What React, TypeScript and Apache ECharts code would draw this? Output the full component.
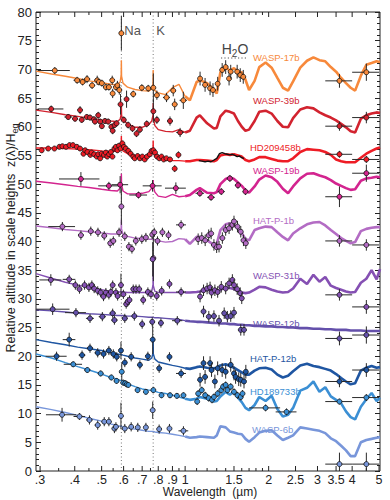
import React, { useEffect, useRef } from 'react';
import * as echarts from 'echarts';

const fontFamily = '"Liberation Sans", Arial, Helvetica, sans-serif';

// ---------- axes ----------
const xTickValues = [0.3, 0.4, 0.5, 0.6, 0.7, 0.8, 0.9, 1, 1.5, 2, 2.5, 3, 3.5, 4, 5];
const xTickLabels = ['.3', '.4', '.5', '.6', '.7', '.8', '.9', '1', '1.5', '2', '2.5', '3', '3.5', '4', '5'];
const xMinorTicks = [0.35, 0.45, 0.55, 0.65, 0.75, 0.85, 0.95, 1.1, 1.2, 1.3, 1.4, 1.6, 1.7, 1.8, 1.9, 4.5];
const lineWl = [0.589, 0.767];
const lineNames = ['Na', 'K'];

// ---------- model wavelength grids (µm) ----------
const visWl = [0.29, 0.33, 0.37, 0.41, 0.45, 0.5, 0.54, 0.57, 0.583, 0.588, 0.589, 0.59, 0.597, 0.62, 0.66, 0.7, 0.74, 0.758, 0.766, 0.767, 0.768, 0.778, 0.8, 0.85, 0.9, 0.95];
const irWl = [1.0, 1.04, 1.1, 1.13, 1.2, 1.27, 1.3, 1.34, 1.4, 1.45, 1.5, 1.55, 1.6, 1.65, 1.7, 1.78, 1.85, 1.95, 2.05, 2.15, 2.25, 2.35, 2.45, 2.6, 2.75, 2.9, 3.05, 3.2, 3.35, 3.5, 3.65, 3.8, 3.95, 4.1, 4.3, 4.5, 4.7, 4.9, 5.04];

// ---------- WASP-17b ----------
const wasp17Vis = [69.7, 69.2, 68.8, 68.4, 68.0, 67.7, 67.4, 67.3, 67.8, 69.0, 71.6, 68.8, 67.6, 66.9, 66.5, 66.3, 66.2, 66.6, 67.6, 69.9, 67.4, 66.3, 65.9, 65.6, 66.8, 67.4];
const wasp17Ir = [65.3, 64.6, 67.8, 68.1, 67.6, 66.5, 65.8, 69.5, 70.3, 69.8, 70.2, 69.6, 69.5, 68.2, 66.4, 68.0, 70.4, 71.2, 70.3, 68.5, 66.8, 66.3, 67.9, 70.3, 71.5, 72.1, 71.6, 71.4, 70.4, 69.6, 68.5, 67.6, 66.8, 66.3, 68.9, 70.8, 71.1, 71.4, 71.3];
const wasp17Obs = [
  [0.339, 69.8, 0.6, 0.045], [0.408, 68.1], [0.427, 67.8], [0.443, 68.3, 0.7], [0.462, 67.2], [0.482, 68.1, 0.8],
  [0.489, 67.8, 0.6, 0.008], [0.501, 67.6, 0.6, 0.01], [0.518, 66.9, 0.6, 0.01], [0.531, 66.9, 0.6, 0.01],
  [0.546, 68.1, 0.8, 0.01], [0.548, 65.8, 0.8, 0.008], [0.563, 66.9, 0.6, 0.008], [0.57, 67.2, 0.8, 0.006],
  [0.579, 66.4, 0.8, 0.006], [0.589, 76.3, 3.0, 0.003], [0.65, 65.7, 0.6, 0.015], [0.698, 66.8, 0.6, 0.015],
  [0.736, 66.7, 0.6], [0.768, 66.8, 2.5, 0.004], [0.791, 65.5, 0.8], [0.857, 65.1, 0.8, 0.025],
  [0.906, 66.3, 1.0, 0.02], [0.917, 63.9, 1.0, 0.02], [0.985, 64.6, 1.5, 0.03],
  [1.132, 68.4], [1.18, 67.3], [1.23, 66.7], [1.26, 66.4], [1.31, 67.5], [1.36, 69.9], [1.4, 70.4],
  [1.44, 68.4], [1.46, 69.6], [1.54, 69.6], [1.58, 69.0], [1.62, 68.7],
  [3.6, 68.0, 1.2, 0.4], [4.5, 69.5, 1.5, 0.5],
];

// ---------- WASP-39b ----------
const wasp39Vis = [62.9, 62.5, 62.1, 61.8, 61.5, 61.2, 61.0, 60.9, 61.3, 62.2, 64.0, 62.0, 61.2, 60.5, 59.9, 59.9, 60.4, 61.0, 62.0, 64.1, 61.6, 60.2, 59.5, 59.2, 59.1, 59.5];
const wasp39Ir = [59.0, 59.3, 61.6, 62.0, 60.6, 59.7, 59.8, 61.8, 62.8, 62.6, 62.3, 61.0, 60.0, 59.3, 59.5, 61.0, 62.6, 62.8, 62.3, 61.0, 60.0, 59.9, 61.5, 63.0, 63.4, 63.2, 62.5, 62.0, 61.6, 61.1, 60.5, 59.9, 59.2, 59.0, 61.4, 62.0, 62.3, 62.5, 62.4];
const wasp39Obs = [
  [0.329, 63.1, 0.6, 0.035], [0.379, 61.7, 0.5, 0.012], [0.401, 61.4, 0.5, 0.01], [0.418, 62.9, 0.7], [0.424, 61.2],
  [0.442, 61.7], [0.454, 61.6], [0.469, 61.3], [0.473, 60.9], [0.486, 62.0, 0.6], [0.494, 60.9], [0.501, 60.1],
  [0.514, 61.0], [0.528, 60.9], [0.542, 60.0], [0.548, 59.3, 0.6], [0.557, 60.3], [0.566, 60.6],
  [0.585, 63.9, 1.8, 0.004], [0.601, 61.2, 0.6], [0.615, 64.8, 1.5, 0.006], [0.623, 60.3, 0.6],
  [0.646, 59.7, 0.6, 0.01], [0.668, 58.8, 0.6, 0.01], [0.687, 59.5, 0.6, 0.01], [0.727, 60.5, 0.6, 0.012],
  [0.768, 62.7, 2.0, 0.004], [0.791, 61.2, 0.7, 0.012], [0.882, 61.0, 0.8, 0.02], [0.959, 59.0, 0.8, 0.03],
  [3.6, 60.1, 0.8, 0.4], [4.5, 61.6, 1.0, 0.5],
];

// ---------- HD209458b ----------
const hd209Vis = [56.3, 56.3, 56.2, 56.1, 56.0, 55.8, 55.7, 55.7, 56.0, 56.8, 58.4, 56.7, 55.8, 55.3, 55.0, 54.9, 55.0, 55.3, 56.0, 57.6, 55.8, 54.8, 54.4, 54.2, 54.1, 54.1];
const hd209Ir = [54.0, 54.0, 54.2, 54.2, 54.1, 54.0, 54.2, 55.0, 55.2, 55.1, 55.2, 55.0, 54.8, 54.2, 54.0, 54.3, 54.7, 54.7, 54.4, 54.1, 54.0, 54.0, 54.5, 55.6, 56.1, 56.0, 55.9, 55.6, 55.1, 54.3, 54.0, 53.8, 53.8, 53.8, 54.6, 55.3, 55.8, 56.2, 56.4];
const hd209Obs = [
  [0.304, 55.9], [0.321, 56.2], [0.338, 56.2], [0.352, 56.5], [0.361, 56.6], [0.372, 56.5], [0.383, 56.8], [0.394, 56.8],
  [0.407, 56.5], [0.418, 56.2], [0.43, 55.3], [0.436, 55.9], [0.444, 55.6], [0.455, 55.1], [0.46, 55.5], [0.47, 55.2],
  [0.48, 54.8], [0.486, 55.2], [0.494, 54.5], [0.5, 55.3], [0.51, 55.1], [0.518, 55.5], [0.524, 54.8], [0.532, 55.2],
  [0.54, 55.6], [0.547, 54.8], [0.556, 56.2], [0.563, 56.5], [0.57, 55.9], [0.578, 56.7], [0.585, 56.2], [0.594, 57.1],
  [0.602, 56.5], [0.611, 56.2], [0.624, 55.8], [0.636, 55.3], [0.65, 54.8], [0.658, 54.5], [0.674, 54.9], [0.687, 54.5],
  [0.701, 54.8], [0.715, 54.3], [0.729, 54.8], [0.746, 55.2], [0.757, 55.8], [0.768, 55.9], [0.779, 55.5], [0.792, 54.8],
  [0.807, 54.5], [0.822, 54.8], [0.837, 54.3], [0.856, 54.5], [0.882, 54.3], [0.917, 52.7, 0.6], [0.946, 55.1, 0.6],
  [3.6, 55.2, 0.6, 0.4], [4.5, 54.3, 0.6, 0.5],
];
const hd209Wfc3 = [
  [1.12, 54.1], [1.15, 54.0], [1.18, 53.9], [1.21, 54.0], [1.24, 53.9], [1.27, 54.2], [1.3, 54.5], [1.33, 55.3], [1.36, 55.5],
  [1.39, 55.3], [1.42, 55.2], [1.45, 55.1], [1.48, 55.2], [1.51, 55.0], [1.54, 54.8], [1.57, 54.9], [1.6, 54.6], [1.63, 54.5],
];

// ---------- WASP-19b ----------
const wasp19Vis = [50.5, 50.2, 49.9, 49.6, 49.4, 49.1, 48.9, 48.8, 49.3, 50.2, 51.8, 50.0, 48.8, 48.3, 48.3, 48.4, 48.7, 49.3, 49.8, 50.7, 49.6, 48.6, 47.9, 47.7, 48.2, 47.8];
const wasp19Ir = [47.9, 48.1, 49.0, 49.3, 48.5, 48.4, 48.6, 50.0, 50.9, 51.2, 50.9, 50.3, 49.7, 48.9, 48.5, 49.6, 50.8, 51.5, 51.2, 50.4, 49.2, 48.4, 49.6, 51.0, 51.8, 51.9, 51.5, 51.2, 50.7, 50.1, 49.7, 49.3, 49.0, 49.1, 50.6, 51.0, 51.1, 51.3, 51.2];
const wasp19Obs = [
  [0.421, 50.9, 1.2, 0.07], [0.531, 49.7, 0.7, 0.045], [0.583, 49.9, 1.5, 0.04], [0.679, 48.1, 0.6, 0.05],
  [0.763, 49.7, 1.0, 0.06], [0.926, 49.3, 1.0, 0.08],
  [1.13, 48.4, 0.6, 0.04], [1.24, 47.7, 0.6, 0.04], [1.35, 48.7, 0.6, 0.04], [1.45, 51.0, 0.6, 0.04],
  [1.55, 49.8, 0.6, 0.04], [1.65, 48.7, 0.6, 0.04],
  [3.6, 47.8, 1.8, 0.4], [4.5, 51.9, 1.5, 0.5],
];

// ---------- HAT-P-1b ----------
const hatp1Vis = [42.7, 42.4, 42.1, 41.9, 41.7, 41.5, 41.3, 41.3, 41.8, 42.4, 43.8, 42.2, 41.2, 40.9, 40.6, 40.5, 40.4, 40.4, 40.5, 40.5, 40.4, 40.3, 40.1, 39.9, 40.0, 40.5];
const hatp1Ir = [40.4, 39.6, 40.8, 40.8, 40.2, 39.4, 39.6, 42.0, 43.0, 43.2, 42.9, 42.3, 41.5, 40.4, 40.2, 42.0, 42.3, 42.6, 42.5, 41.6, 40.8, 40.2, 41.4, 42.3, 43.0, 43.3, 43.4, 42.8, 42.0, 41.3, 40.6, 40.1, 39.7, 39.9, 41.8, 42.2, 42.4, 42.5, 42.5];
const hatp1Obs = [
  [0.361, 42.6, 0.8, 0.04], [0.421, 41.1], [0.457, 41.8], [0.485, 41.6], [0.511, 41.0], [0.537, 39.7], [0.551, 40.1],
  [0.578, 41.6], [0.589, 46.1, 3.2, 0.003], [0.606, 40.9], [0.627, 39.1], [0.643, 38.7], [0.664, 40.1], [0.698, 40.4],
  [0.722, 40.7], [0.761, 41.2], [0.768, 37.1, 4.0, 0.003], [0.774, 41.6], [0.795, 40.1], [0.828, 41.6], [0.871, 41.1],
  [0.967, 42.9, 0.8, 0.04],
  [1.114, 40.4], [1.148, 40.6], [1.181, 40.2], [1.216, 41.1], [1.241, 41.4], [1.27, 39.4], [1.299, 39.0], [1.325, 39.1],
  [1.362, 40.6], [1.4, 42.0], [1.44, 42.3], [1.48, 42.9], [1.5, 43.5], [1.544, 42.6], [1.587, 41.7], [1.623, 40.2], [1.655, 39.7],
  [3.6, 40.1, 1.0, 0.4], [4.5, 39.4, 1.0, 0.5],
];

// ---------- WASP-31b ----------
const wasp31Vis = [34.4, 33.6, 32.9, 32.4, 32.0, 31.6, 31.3, 31.2, 31.2, 31.3, 31.3, 31.3, 31.2, 31.1, 31.1, 31.1, 31.1, 31.3, 32.5, 37.3, 32.3, 31.3, 31.1, 31.1, 31.1, 31.1];
const wasp31Ir = [31.1, 31.1, 31.2, 31.3, 31.6, 31.5, 31.2, 31.6, 32.0, 31.9, 31.7, 31.4, 31.1, 31.0, 31.1, 31.6, 32.1, 32.0, 31.6, 31.3, 31.1, 31.2, 31.8, 33.5, 32.6, 34.2, 33.0, 33.8, 32.3, 31.9, 31.6, 31.3, 31.1, 31.2, 32.8, 33.5, 35.0, 33.4, 35.2];
const wasp31Obs = [
  [0.328, 33.3, 1.0, 0.03], [0.382, 33.4, 0.8, 0.02], [0.402, 32.4], [0.416, 31.7], [0.434, 32.4], [0.45, 32.0],
  [0.461, 32.4], [0.47, 31.8], [0.484, 31.4], [0.496, 31.1], [0.508, 30.4], [0.518, 31.1], [0.531, 30.7], [0.54, 31.2],
  [0.548, 32.4], [0.563, 31.1], [0.571, 30.5], [0.587, 32.4, 2.0, 0.003], [0.599, 30.8], [0.613, 29.1], [0.621, 29.5],
  [0.63, 29.8], [0.65, 31.7], [0.665, 31.7], [0.683, 31.7], [0.706, 29.8], [0.734, 31.2], [0.753, 30.8],
  [0.764, 36.9, 3.0, 0.003], [0.79, 30.5], [0.823, 31.4], [0.878, 32.6], [0.967, 31.2, 0.8, 0.04],
  [1.132, 30.4], [1.165, 31.5], [1.2, 31.8], [1.23, 32.0], [1.245, 31.1], [1.28, 31.5], [1.31, 31.2], [1.35, 32.1],
  [1.4, 31.8], [1.44, 32.7], [1.48, 33.3], [1.5, 32.4], [1.54, 31.7], [1.58, 31.0], [1.6, 30.1],
  [3.6, 30.7, 1.0, 0.4], [4.5, 28.6, 1.2, 0.5],
];

// ---------- WASP-12b ----------
const wasp12Vis = [28.1, 27.9, 27.7, 27.5, 27.4, 27.3, 27.2, 27.1, 27.1, 27.1, 27.1, 27.1, 27.1, 27.0, 27.0, 26.9, 26.8, 26.8, 26.8, 26.8, 26.8, 26.7, 26.7, 26.6, 26.5, 26.4];
const wasp12Ir = [26.2, 26.1, 26.0, 26.0, 25.9, 25.8, 25.8, 25.7, 25.7, 25.6, 25.6, 25.5, 25.5, 25.4, 25.4, 25.3, 25.3, 25.2, 25.2, 25.1, 25.1, 25.0, 25.0, 24.9, 24.9, 24.8, 24.8, 24.7, 24.7, 24.6, 24.6, 24.6, 24.5, 24.5, 24.5, 24.4, 24.4, 24.4, 24.4];
const wasp12Obs = [
  [0.333, 28.2, 1.0, 0.05], [0.404, 27.6, 0.8, 0.035], [0.454, 26.6], [0.503, 26.9], [0.548, 27.5], [0.556, 26.3],
  [0.606, 26.6], [0.656, 27.0], [0.7, 25.6], [0.761, 26.0], [0.818, 25.8], [0.937, 26.2, 0.8, 0.04],
  [1.165, 27.8], [1.217, 26.9], [1.27, 27.0], [1.325, 26.2], [1.383, 27.5], [1.42, 26.9], [1.46, 27.0], [1.5, 27.6],
  [1.587, 24.6], [1.63, 24.6],
  [3.6, 23.1, 1.2, 0.4], [4.5, 23.7, 1.5, 0.5],
];

// ---------- HAT-P-12b ----------
const hatp12Vis = [22.9, 22.4, 22.0, 21.6, 21.3, 21.0, 20.6, 20.4, 20.3, 20.3, 20.3, 20.3, 20.2, 20.0, 19.7, 19.5, 19.3, 19.7, 20.6, 23.4, 20.4, 19.5, 19.0, 18.7, 18.4, 18.2];
const hatp12Ir = [17.9, 17.8, 18.1, 18.2, 18.0, 17.9, 18.0, 18.4, 18.6, 18.3, 18.0, 17.6, 17.2, 16.8, 16.8, 17.5, 17.9, 18.0, 17.7, 16.8, 16.3, 16.6, 17.4, 18.4, 18.7, 18.3, 18.1, 17.8, 17.5, 16.9, 16.2, 15.6, 15.1, 15.3, 17.5, 18.0, 18.3, 18.0, 18.1];
const hatp12Obs = [
  [0.344, 20.0, 0.8, 0.03], [0.382, 22.9, 1.2, 0.02], [0.425, 20.2], [0.454, 21.4], [0.484, 20.6], [0.508, 20.4],
  [0.531, 21.0], [0.551, 20.4], [0.567, 19.9], [0.587, 21.0, 1.5, 0.004], [0.606, 18.9], [0.639, 19.9], [0.687, 18.5],
  [0.734, 20.0], [0.764, 22.9, 2.5, 0.003], [0.806, 17.9], [0.878, 19.9], [0.967, 17.0, 0.8, 0.04],
  [1.132, 15.9], [1.165, 18.8], [1.18, 16.4], [1.23, 18.8], [1.245, 17.6], [1.28, 15.6], [1.31, 17.9], [1.36, 17.6],
  [1.4, 17.3], [1.46, 18.5], [1.5, 17.0], [1.52, 16.4], [1.56, 16.0], [1.587, 15.9], [1.63, 15.6], [1.655, 17.3],
  [3.6, 15.6, 1.0, 0.4], [4.5, 17.6, 1.2, 0.5],
];

// ---------- HD189733b ----------
const hd189Vis = [20.4, 19.7, 18.9, 18.2, 17.6, 16.9, 16.3, 16.0, 15.8, 15.8, 15.9, 15.8, 15.6, 15.2, 14.7, 14.3, 14.1, 14.0, 14.0, 14.1, 14.0, 13.9, 13.7, 13.5, 13.2, 12.9];
const hd189Ir = [12.6, 12.4, 12.6, 12.9, 12.6, 12.1, 12.2, 13.0, 13.8, 13.3, 13.9, 12.8, 12.0, 11.0, 10.6, 11.5, 12.9, 12.2, 13.1, 10.8, 9.5, 9.8, 11.0, 14.0, 14.5, 15.6, 13.8, 14.6, 13.0, 12.4, 11.8, 10.4, 9.4, 9.0, 11.2, 12.5, 13.6, 12.2, 12.8];
const hd189Obs = [
  [0.395, 18.6, 0.5, 0.03], [0.444, 17.6], [0.496, 17.0], [0.542, 16.3], [0.566, 15.7], [0.591, 17.3, 1.5, 0.003],
  [0.598, 15.4], [0.608, 15.3], [0.616, 15.1], [0.624, 15.0], [0.674, 14.1], [0.722, 13.8], [0.768, 14.1], [0.822, 13.2],
  [0.882, 13.2], [0.934, 13.1], [0.986, 13.2], [1.105, 12.1],
  [1.114, 13.5], [1.148, 14.1], [1.181, 13.2], [1.216, 12.7], [1.25, 12.4], [1.27, 12.9], [1.31, 13.5], [1.35, 14.1],
  [1.37, 14.7], [1.4, 15.0], [1.42, 14.1], [1.46, 14.7], [1.5, 13.8], [1.544, 13.2], [1.587, 12.9], [1.61, 13.5],
  [1.95, 11.0, 0.6, 0.25], [2.32, 10.3, 0.6, 0.2], [3.6, 12.1, 0.5, 0.4], [4.5, 12.8, 0.6, 0.5],
];

// ---------- WASP-6b ----------
const wasp6Vis = [11.2, 10.7, 10.2, 9.7, 9.2, 8.7, 8.2, 7.9, 7.8, 7.8, 7.8, 7.8, 7.7, 7.5, 7.3, 7.1, 6.9, 6.9, 6.9, 6.9, 6.9, 6.8, 6.7, 6.6, 6.4, 6.2];
const wasp6Ir = [6.0, 5.8, 5.9, 6.0, 5.9, 5.8, 6.2, 7.8, 7.6, 6.9, 6.7, 6.5, 6.4, 5.6, 5.1, 5.9, 6.7, 7.0, 7.1, 6.2, 5.4, 5.8, 6.2, 7.6, 7.4, 7.2, 7.0, 6.6, 5.7, 5.2, 4.4, 3.6, 2.6, 2.6, 5.0, 5.4, 5.6, 5.8, 5.9];
const wasp6Obs = [
  [0.36, 9.8, 1.2, 0.045], [0.416, 9.5, 0.6, 0.02], [0.452, 8.9], [0.484, 8.0], [0.511, 8.6], [0.531, 8.6], [0.556, 7.4],
  [0.563, 7.7], [0.587, 9.6, 2.3, 0.004], [0.606, 7.4], [0.639, 7.7], [0.675, 7.6], [0.722, 7.6], [0.764, 10.6, 1.5, 0.004],
  [0.806, 7.3], [0.878, 7.4], [0.986, 7.0, 0.8, 0.04],
  [3.6, 1.2, 2.0, 0.4], [4.5, 1.2, 2.0, 0.5],
];

const planetNames = ['WASP-17b', 'WASP-39b', 'HD209458b', 'WASP-19b', 'HAT-P-1b', 'WASP-31b', 'WASP-12b', 'HAT-P-12b', 'HD189733b', 'WASP-6b'];
const planetColors = ['#f7893b', '#d2232f', '#ee1c25', '#d3248f', '#b36cc4', '#8550b3', '#6450ab', '#1f56a2', '#3b8fd4', '#7896da'];

export default function App() {
  const ref = useRef<HTMLDivElement>(null);

  useEffect(() => {
    if (!ref.current) return;
    const chart = echarts.init(ref.current, null, { renderer: 'svg' });

    const planets = [
      { vis: wasp17Vis, ir: wasp17Ir, obs: wasp17Obs, err: 0.6, dx: 0.012, irErr: 1.2 },
      { vis: wasp39Vis, ir: wasp39Ir, obs: wasp39Obs, err: 0.5, dx: 0.008, irErr: 0.8 },
      { vis: hd209Vis, ir: hd209Ir, obs: hd209Obs, err: 0.4, dx: 0.004, irErr: 0.4 },
      { vis: wasp19Vis, ir: wasp19Ir, obs: wasp19Obs, err: 1.0, dx: 0.04, irErr: 0.6 },
      { vis: hatp1Vis, ir: hatp1Ir, obs: hatp1Obs, err: 0.8, dx: 0.01, irErr: 1.0 },
      { vis: wasp31Vis, ir: wasp31Ir, obs: wasp31Obs, err: 0.8, dx: 0.008, irErr: 1.0 },
      { vis: wasp12Vis, ir: wasp12Ir, obs: wasp12Obs, err: 0.8, dx: 0.015, irErr: 1.0 },
      { vis: hatp12Vis, ir: hatp12Ir, obs: hatp12Obs, err: 0.8, dx: 0.012, irErr: 1.2 },
      { vis: hd189Vis, ir: hd189Ir, obs: hd189Obs, err: 0.5, dx: 0.012, irErr: 0.6 },
      { vis: wasp6Vis, ir: wasp6Ir, obs: wasp6Obs, err: 0.8, dx: 0.012, irErr: 1.0 },
    ];

    const series: any[] = [];

    // Na / K dotted lines
    series.push({
      type: 'custom',
      coordinateSystem: 'cartesian2d',
      silent: true,
      z: 1,
      data: lineWl.map((w) => [w, 0]),
      encode: { x: 0, y: 1 },
      renderItem: (params: any, api: any) => {
        const w = api.value(0);
        const top = api.coord([w, 80]);
        const bot = api.coord([w, 0]);
        return {
          type: 'group',
          children: [
            { type: 'line', shape: { x1: top[0], y1: top[1], x2: bot[0], y2: bot[1] }, style: { stroke: '#777', lineWidth: 1, lineDash: [1, 2.5] } },
            { type: 'text', x: top[0] + 3, y: top[1] + 18, style: { text: lineNames[params.dataIndex], fill: '#555', fontSize: 13, fontFamily, textAlign: 'left', textVerticalAlign: 'middle' } },
          ],
        };
      },
    });

    // x ticks & labels
    const allTicks = xTickValues.map((v, i) => [v, 1, i]).concat(xMinorTicks.map((v) => [v, 0, -1]));
    series.push({
      type: 'custom',
      coordinateSystem: 'cartesian2d',
      silent: true,
      z: 1,
      data: allTicks.map((t) => [t[0], 0]),
      encode: { x: 0, y: 1 },
      renderItem: (params: any, api: any) => {
        const t = allTicks[params.dataIndex];
        const w = api.value(0);
        const bot = api.coord([w, 0]);
        const top = api.coord([w, 80]);
        const len = t[1] ? 5 : 3;
        const children: any[] = [
          { type: 'line', shape: { x1: bot[0], y1: bot[1], x2: bot[0], y2: bot[1] - len }, style: { stroke: '#222', lineWidth: 1 } },
          { type: 'line', shape: { x1: top[0], y1: top[1], x2: top[0], y2: top[1] + len }, style: { stroke: '#222', lineWidth: 1 } },
        ];
        if (t[1]) {
          children.push({ type: 'text', x: bot[0], y: bot[1] + 2, style: { text: xTickLabels[t[2]], fill: '#222', fontSize: 12.5, fontFamily, textAlign: 'center', textVerticalAlign: 'top' } });
        }
        return { type: 'group', children };
      },
    });

    // models
    planets.forEach((p, k) => {
      const visData = p.vis.map((v, i) => [visWl[i], v]).concat([[irWl[0], p.ir[0]]]);
      const irData = p.ir.map((v, i) => [irWl[i], v]);
      series.push({
        type: 'line', data: visData, showSymbol: false, silent: true, z: 2,
        lineStyle: { color: planetColors[k], width: 1.4 },
      });
      series.push({
        type: 'line', data: irData, showSymbol: false, silent: true, z: 2,
        lineStyle: { color: planetColors[k], width: 2.6 },
      });
    });

    // HD209458b WFC3 linked line
    series.push({
      type: 'line', data: hd209Wfc3, showSymbol: false, silent: true, z: 3,
      lineStyle: { color: '#111', width: 1.4 },
    });

    // observations
    planets.forEach((p, k) => {
      const color = planetColors[k];
      const rows = p.obs.map((o: number[]) => {
        const ir = o[0] > 1.05 && o.length === 2;
        return [o[0], o[1], o[2] ?? (o[0] > 1.05 ? p.irErr : p.err), o[3] ?? (ir ? 0.012 : p.dx)];
      });
      series.push({
        type: 'custom',
        coordinateSystem: 'cartesian2d',
        silent: true,
        clip: true,
        z: 4,
        data: rows,
        encode: { x: 0, y: 1 },
        renderItem: (params: any, api: any) => {
          const w = api.value(0), v = api.value(1), e = api.value(2), dx = api.value(3);
          const c = api.coord([w, v]);
          const l = api.coord([w - dx, v]);
          const r = api.coord([w + dx, v]);
          const t = api.coord([w, v + e]);
          const b = api.coord([w, v - e]);
          return {
            type: 'group',
            children: [
              { type: 'line', shape: { x1: l[0], y1: l[1], x2: r[0], y2: r[1] }, style: { stroke: '#2a2a2a', lineWidth: 1 } },
              { type: 'line', shape: { x1: t[0], y1: t[1], x2: b[0], y2: b[1] }, style: { stroke: '#2a2a2a', lineWidth: 1 } },
              { type: 'circle', shape: { cx: c[0], cy: c[1], r: 2.5 }, style: { fill: color, stroke: '#111', lineWidth: 0.8 } },
            ],
          };
        },
      });
    });

    const labelPos = [[253, 57], [253, 100], [250, 147], [253, 170], [253, 220], [253, 275], [253, 323], [250, 358], [250, 391], [252, 429]];

    const option: any = {
      animation: false,
      grid: { left: 36, right: 10, top: 12, bottom: 29, show: true, borderColor: '#222', borderWidth: 1, backgroundColor: 'transparent' },
      xAxis: {
        type: 'log', logBase: 10, min: 0.29, max: 5.04,
        axisLine: { show: false }, axisTick: { show: false }, axisLabel: { show: false },
        splitLine: { show: false }, minorTick: { show: false }, minorSplitLine: { show: false },
      },
      yAxis: [
        {
          type: 'value', min: 0, max: 80, interval: 5,
          axisLine: { show: false },
          axisTick: { show: true, inside: true, length: 5, lineStyle: { color: '#222' } },
          minorTick: { show: true, splitNumber: 5, length: 3, lineStyle: { color: '#222' } },
          splitLine: { show: false }, minorSplitLine: { show: false },
          axisLabel: { fontSize: 13, color: '#222', margin: 4, fontFamily },
        },
        {
          type: 'value', min: 0, max: 80, interval: 5, position: 'right',
          axisLine: { show: false },
          axisTick: { show: true, inside: true, length: 5, lineStyle: { color: '#222' } },
          minorTick: { show: true, splitNumber: 5, length: 3, lineStyle: { color: '#222' } },
          splitLine: { show: false }, minorSplitLine: { show: false },
          axisLabel: { show: false },
        },
      ],
      series,
      graphic: [
        ...planetNames.map((n, i) => ({
          type: 'text', x: labelPos[i][0], y: labelPos[i][1], silent: true, z: 10,
          style: { text: n, fill: planetColors[i], fontSize: 9.5, fontFamily, textAlign: 'left', textVerticalAlign: 'middle' },
        })),
        {
          type: 'text', x: 235, y: 49, silent: true, z: 10,
          style: {
            text: '{a|H}{b|2}{a|O}', textAlign: 'center', textVerticalAlign: 'middle',
            rich: {
              a: { fontSize: 14, fontFamily, fill: '#444', color: '#444' },
              b: { fontSize: 10, fontFamily, fill: '#444', color: '#444', padding: [8, 0, 0, 0] },
            },
          },
        },
        { type: 'line', silent: true, z: 10, shape: { x1: 221, y1: 58, x2: 246, y2: 58 }, style: { stroke: '#555', lineWidth: 1, lineDash: [1.2, 2.2] } },
        {
          type: 'text', x: 210, y: 492, silent: true, z: 10,
          style: { text: 'Wavelength  (µm)', fill: '#222', fontSize: 12, fontFamily, textAlign: 'center', textVerticalAlign: 'middle' },
        },
        {
          type: 'text', x: 11, y: 238, rotation: Math.PI / 2, silent: true, z: 10,
          style: {
            text: '{a|Relative altitude in scale heights  z(λ)/H}{b|eq}', textAlign: 'center', textVerticalAlign: 'middle',
            rich: {
              a: { fontSize: 12.5, fontFamily, fill: '#222', color: '#222' },
              b: { fontSize: 9, fontFamily, fill: '#222', color: '#222', padding: [7, 0, 0, 0] },
            },
          },
        },
      ],
    };

    chart.setOption(option);
    return () => chart.dispose();
  }, []);

  return <div ref={ref} style={{ position: 'absolute', left: 0, top: 0, width: 390, height: 500 }} />;
}
